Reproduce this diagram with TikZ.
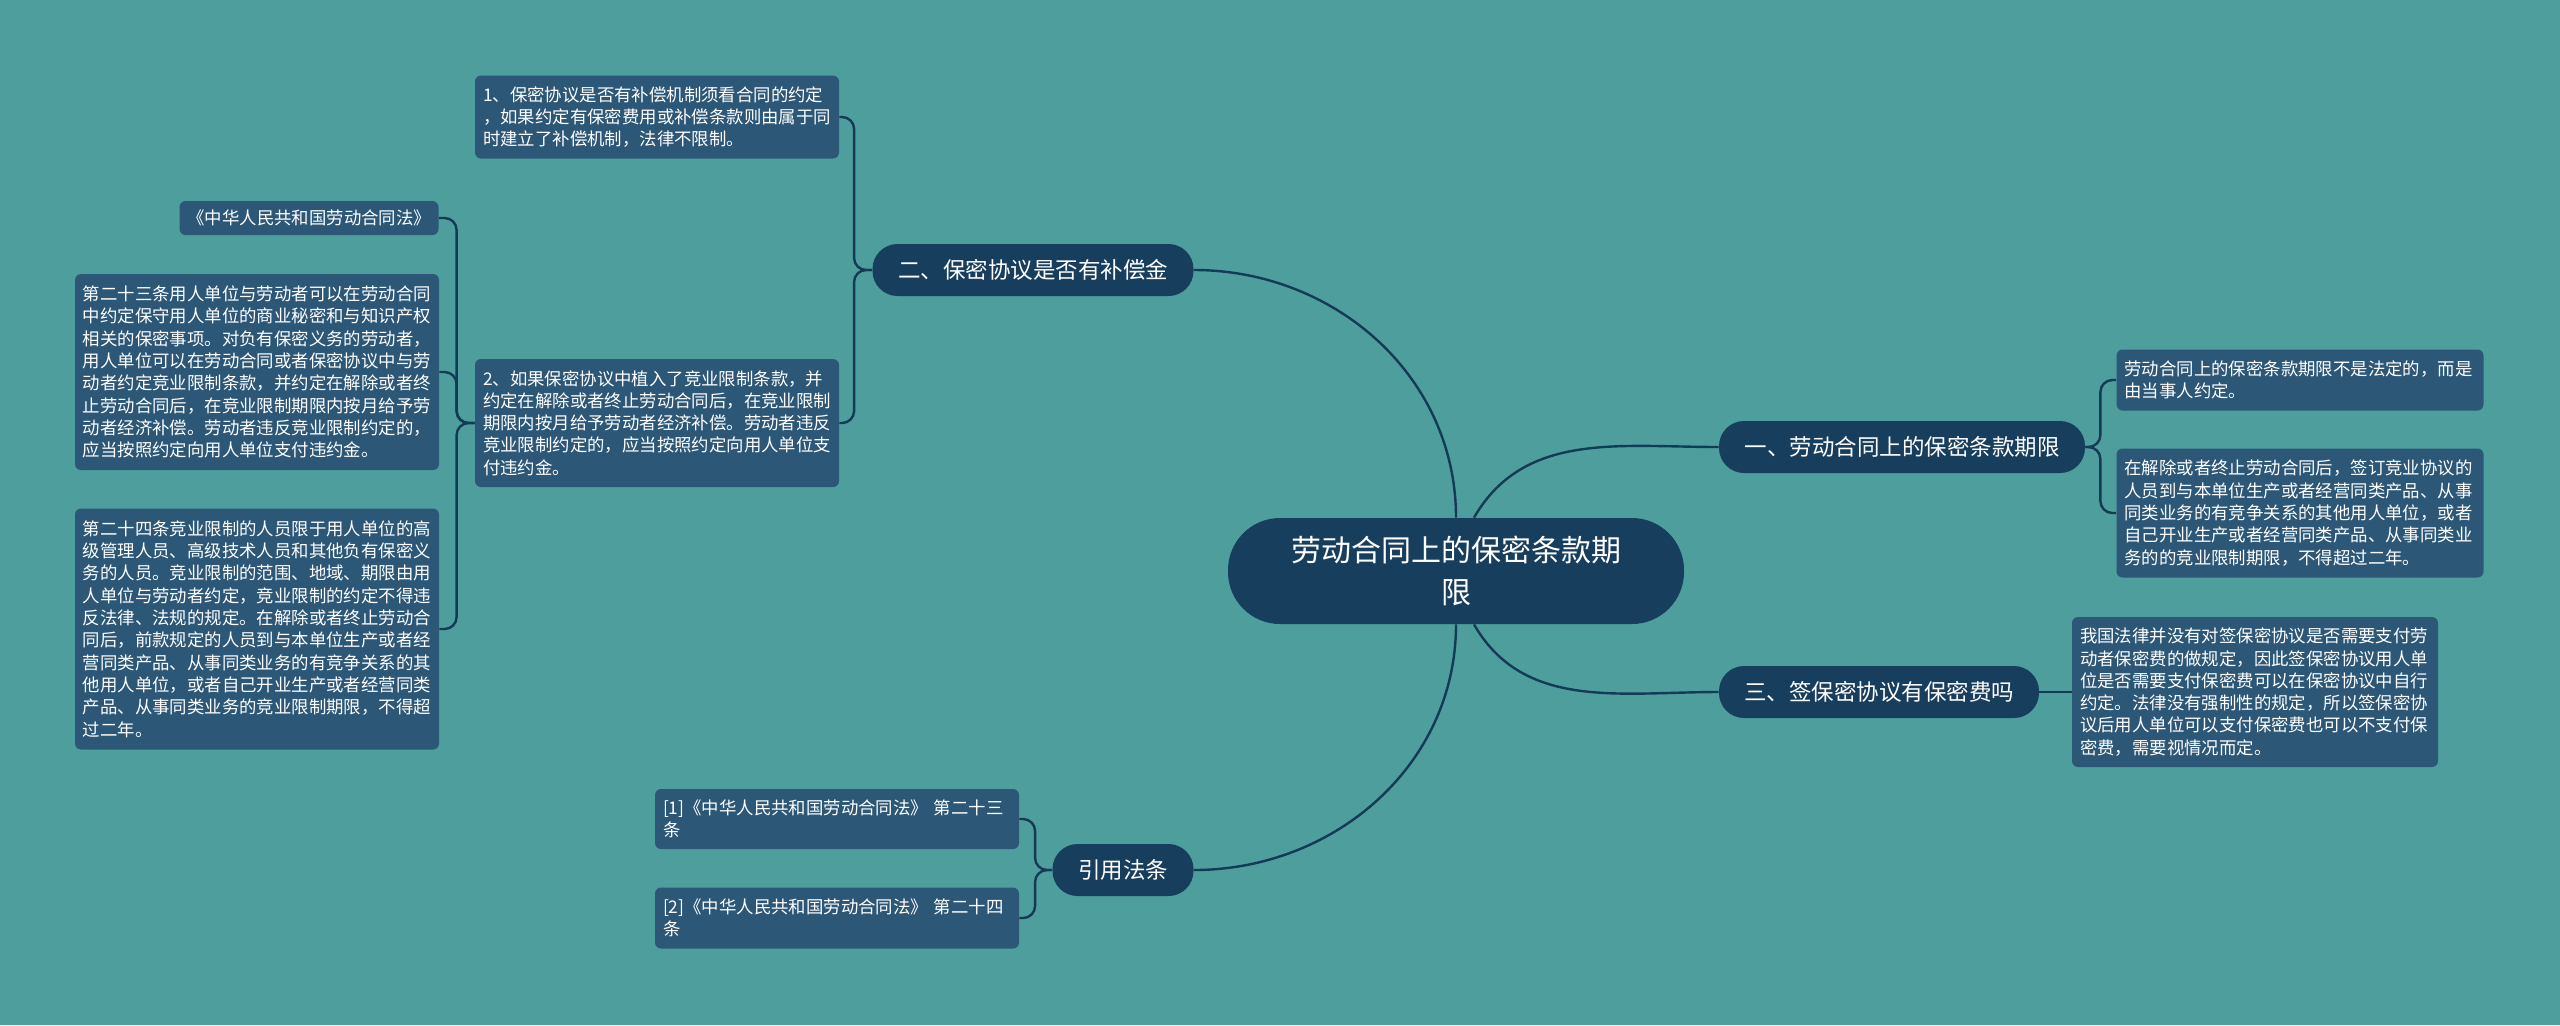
\documentclass[tikz,border=0pt]{standalone}
\usepackage{fontspec}
\setmainfont{Noto Sans CJK SC}
\usetikzlibrary{positioning, calc}
\definecolor{STBack}{RGB}{78, 158, 158}
\definecolor{STLeaf}{RGB}{44, 87, 118}
\definecolor{STTopic}{RGB}{24, 62, 93}
\definecolor{STLine}{RGB}{20, 58, 86}

\begin{document}
\begin{tikzpicture}[
  x=0.5pt, y=0.5pt,
  every node/.style={text=white},
  root/.style={fill=STTopic, rounded corners=26pt, align=center,
               minimum width=228pt, minimum height=53pt, inner sep=0pt,
               font=\fontsize{15pt}{21pt}\selectfont},
  topic/.style={fill=STTopic, rounded corners=12.5pt, minimum height=26pt,
                inner sep=0pt, font=\fontsize{11.25pt}{14pt}\selectfont},
  leaf/.style={fill=STLeaf, rounded corners=3pt, align=left,
               text width=174pt, inner xsep=4pt, inner ysep=0pt,
               minimum height=#1, font=\fontsize{8.7pt}{11.15pt}\selectfont},
  link/.style={draw=STLine, line width=1.2pt, rounded corners=6pt}
]
  \fill[STBack] (0,0) rectangle (2560,-1025);
  \useasboundingbox (0,0) rectangle (2560,-1025);

  % centre and main topics
  \node[root] (root) at (1456,-571) {劳动合同上的保密条款期\\限};
  \node[topic, minimum width=160.5pt] (b2) at (1033,-270) {二、保密协议是否有补偿金};
  \node[topic, minimum width=183pt]   (b1) at (1902,-447) {一、劳动合同上的保密条款期限};
  \node[topic, minimum width=160pt]   (b3) at (1879,-692) {三、签保密协议有保密费吗};
  \node[topic, minimum width=70.5pt]  (b4) at (1123,-870) {引用法条};

  % left side
  \node[leaf=41.5pt] (l21) at (657,-117) {1、保密协议是否有补偿机制须看合同的约定\\，如果约定有保密费用或补偿条款则由属于同\\时建立了补偿机制，法律不限制。};
  \node[leaf=64pt] (l22) at (657,-423) {2、如果保密协议中植入了竞业限制条款，并\\约定在解除或者终止劳动合同后，在竞业限制\\期限内按月给予劳动者经济补偿。劳动者违反\\竞业限制约定的，应当按照约定向用人单位支\\付违约金。};
  \node[leaf=17pt, text width=121.5pt] (ll0) at (309,-218) {《中华人民共和国劳动合同法》};
  \node[leaf=98pt] (ll1) at (257,-372) {第二十三条用人单位与劳动者可以在劳动合同\\中约定保守用人单位的商业秘密和与知识产权\\相关的保密事项。对负有保密义务的劳动者，\\用人单位可以在劳动合同或者保密协议中与劳\\动者约定竞业限制条款，并约定在解除或者终\\止劳动合同后，在竞业限制期限内按月给予劳\\动者经济补偿。劳动者违反竞业限制约定的，\\应当按照约定向用人单位支付违约金。};
  \node[leaf=120.5pt] (ll2) at (257,-629) {第二十四条竞业限制的人员限于用人单位的高\\级管理人员、高级技术人员和其他负有保密义\\务的人员。竞业限制的范围、地域、期限由用\\人单位与劳动者约定，竞业限制的约定不得违\\反法律、法规的规定。在解除或者终止劳动合\\同后，前款规定的人员到与本单位生产或者经\\营同类产品、从事同类业务的有竞争关系的其\\他用人单位，或者自己开业生产或者经营同类\\产品、从事同类业务的竞业限制期限，不得超\\过二年。};
  \node[leaf=30pt] (c1) at (837,-819) {[1]《中华人民共和国劳动合同法》 第二十三\\条};
  \node[leaf=30.5pt] (c2) at (837,-918) {[2]《中华人民共和国劳动合同法》 第二十四\\条};

  % right side
  \node[leaf=30.5pt, text width=175.5pt] (r11) at (2300,-380) {劳动合同上的保密条款期限不是法定的，而是\\由当事人约定。};
  \node[leaf=64.5pt, text width=175.5pt] (r12) at (2300,-513) {在解除或者终止劳动合同后，签订竞业协议的\\人员到与本单位生产或者经营同类产品、从事\\同类业务的有竞争关系的其他用人单位，或者\\自己开业生产或者经营同类产品、从事同类业\\务的的竞业限制期限，不得超过二年。};
  \node[leaf=75pt, text width=175pt] (r31) at (2255,-692) {我国法律并没有对签保密协议是否需要支付劳\\动者保密费的做规定，因此签保密协议用人单\\位是否需要支付保密费可以在保密协议中自行\\约定。法律没有强制性的规定，所以签保密协\\议后用人单位可以支付保密费也可以不支付保\\密费，需要视情况而定。};

  % connectors
  \draw[link] (root.north) to[out=90, in=0] (b2.east);
  \draw[link] ([xshift=9pt]root.north) to[out=60, in=180] (b1.west);
  \draw[link] ([xshift=9pt]root.south) to[out=-60, in=180] (b3.west);
  \draw[link] (root.south) to[out=-90, in=0] (b4.east);

  \draw[link] (b2.west) -- ++(-9pt,0) |- (l21.east);
  \draw[link] (b2.west) -- ++(-9pt,0) |- (l22.east);
  \draw[link] (l22.west) -- ++(-9pt,0) |- (ll0.east);
  \draw[link] (l22.west) -- ++(-9pt,0) |- (ll1.east);
  \draw[link] (l22.west) -- ++(-9pt,0) |- (ll2.east);
  \draw[link] (b4.west) -- ++(-8.5pt,0) |- (c1.east);
  \draw[link] (b4.west) -- ++(-8.5pt,0) |- (c2.east);
  \draw[link] (b1.east) -- ++(7.5pt,0) |- (r11.west);
  \draw[link] (b1.east) -- ++(7.5pt,0) |- (r12.west);
  \draw[link] (b3.east) -- (r31.west);
\end{tikzpicture}
\end{document}
